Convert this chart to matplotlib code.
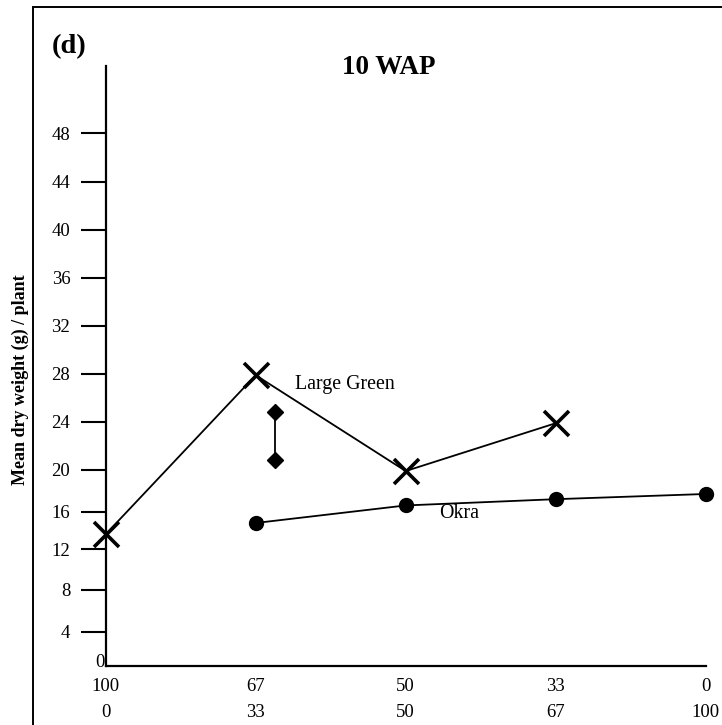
import numpy as np
import matplotlib
matplotlib.use("Agg")
import matplotlib.pyplot as plt
from matplotlib.patches import Rectangle

# ---------------- data ----------------
x_labels_top = ["100", "67", "50", "33", "0"]
x_labels_bottom = ["0", "33", "50", "67", "100"]
large_green_x = [0, 1, 2, 3]
large_green_y = [13.6, 27.9, 19.9, 23.9]
okra_x = [1, 2, 3, 4]
okra_y = [14.8, 16.6, 17.2, 17.7]
lsd_x = [1.13, 1.13]
lsd_y = [24.8, 20.8]
ytick_values = [4, 8, 12, 16, 20, 24, 28, 32, 36, 40, 44, 48]

# ---------------- non-uniform y scale of the original drawing ----------------
scale_vals = np.array([-100, 0, 4, 8, 12, 16, 20, 24, 28, 32, 36, 40, 44, 48, 53.6, 200])
scale_pos = np.array([-1205, 0, 33.7, 76, 116.4, 154, 195.7, 243.7, 291.7, 339.7,
                      388, 436, 484, 532.4, 600, 1765])

def fwd(v):
    return np.interp(v, scale_vals, scale_pos)

def inv(p):
    return np.interp(p, scale_pos, scale_vals)

plt.rcParams['font.family'] = ['Liberation Serif', 'DejaVu Serif']

fig = plt.figure(figsize=(7.22, 7.25), dpi=100)
ax = fig.add_axes([105.7 / 722, 59.3 / 725, 600 / 722, 600 / 725])
ax.set_yscale('function', functions=(fwd, inv))
ax.set_xlim(0, 4)
ax.set_ylim(0, 53.6)

ax.plot(large_green_x, large_green_y, color='black', lw=1.3, marker='x',
        markersize=18, markeredgewidth=2.6, clip_on=False, zorder=3)
ax.plot(okra_x, okra_y, color='black', lw=1.3, marker='o',
        markersize=10, clip_on=False, zorder=3)
ax.plot(lsd_x, lsd_y, color='black', lw=1.3, marker='D', markersize=8.5,
        clip_on=False, zorder=3)

ax.text(1.262, 27.1, "Large Green", fontsize=14.3, ha='left', va='center')
ax.text(2.22, 15.86, "Okra", fontsize=14.3, ha='left', va='center')

for s in ['top', 'right']:
    ax.spines[s].set_visible(False)
for s in ['left', 'bottom']:
    ax.spines[s].set_linewidth(1.6)

ax.set_yticks(ytick_values)
ax.set_yticklabels([str(v) for v in ytick_values], fontsize=13.5)
ax.yaxis.set_minor_locator(matplotlib.ticker.NullLocator())
ax.tick_params(axis='y', direction='out', length=18, width=1.5, pad=7.5)

ax.set_xticks(range(len(x_labels_top)))
ax.set_xticklabels([f"{a}\n{b}" for a, b in zip(x_labels_top, x_labels_bottom)],
                   fontsize=13.5, linespacing=1.65)
ax.tick_params(axis='x', length=0, pad=9)

ax.annotate("0", xy=(0, 0), xycoords=('axes fraction', 'data'), xytext=(-1, 2),
            textcoords='offset points', ha='right', va='center', fontsize=13.5)

fig.text(20 / 722, 1 - 380 / 725, "Mean dry weight (g) / plant", rotation=90,
         fontsize=13, fontweight='bold', ha='center', va='center')
fig.text(389 / 722, 1 - 68 / 725, "10 WAP", fontsize=19.5, fontweight='bold',
         ha='center', va='center')
fig.text(52 / 722, 1 - 47 / 725, "(d)", fontsize=20.5, fontweight='bold',
         ha='left', va='center')

fig.add_artist(Rectangle((32.5 / 722, -0.1), 1.2, 1 - 7 / 725 + 0.1,
                         transform=fig.transFigure, fill=False, lw=1.4,
                         edgecolor='black'))

fig.savefig("out.png", dpi=100)
